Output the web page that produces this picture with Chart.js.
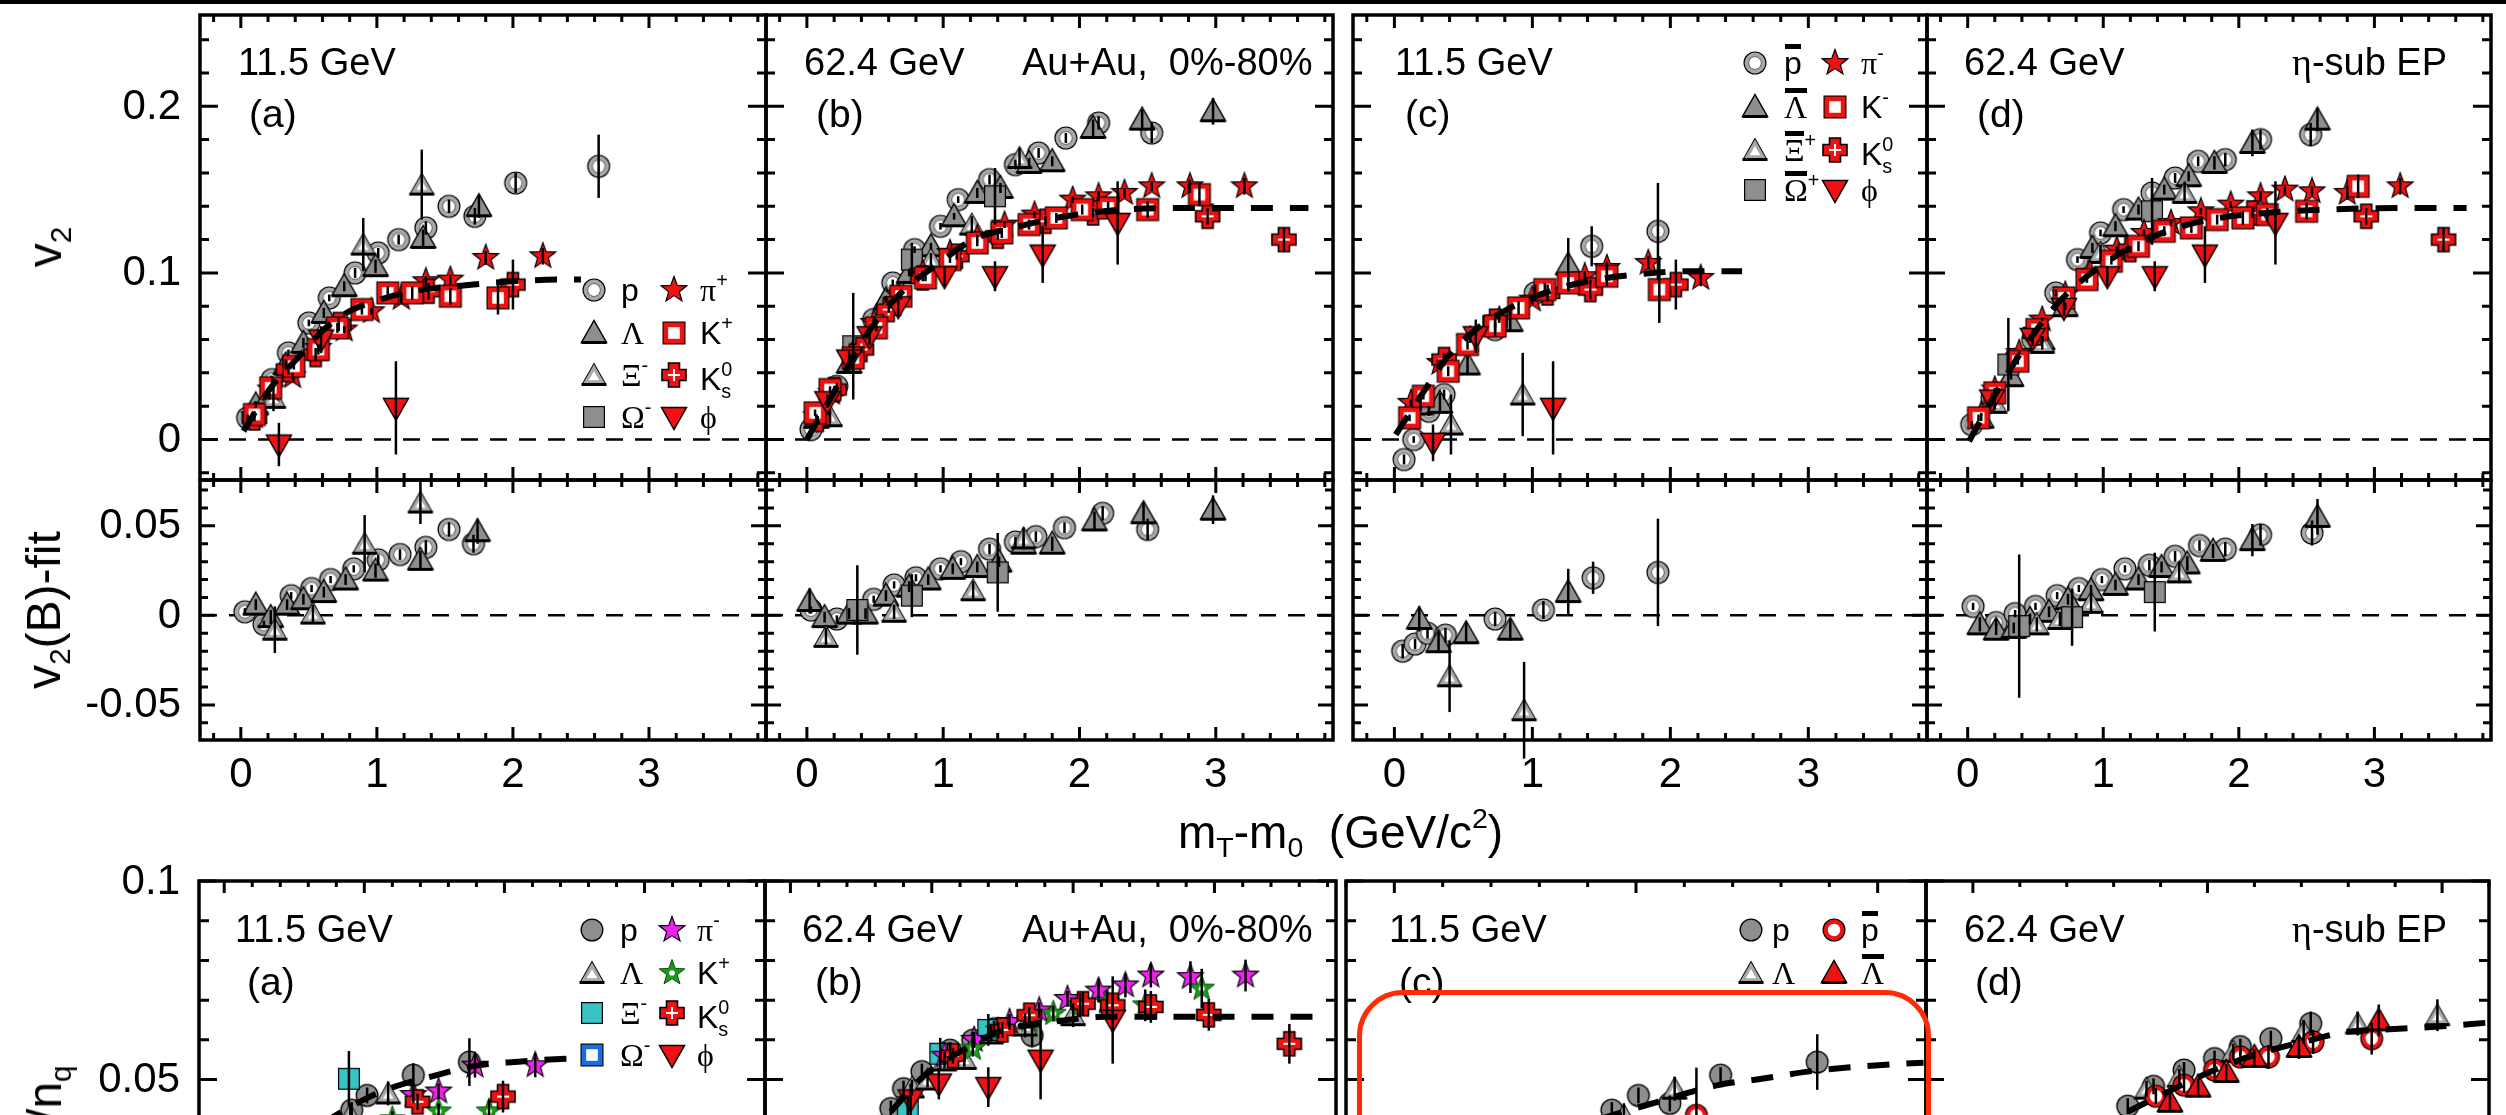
<!DOCTYPE html>
<html>
<head>
<meta charset="utf-8">
<script src="https://cdn.jsdelivr.net/npm/chart.js@4.4.1/dist/chart.umd.min.js"></script>
<style>
  html, body { margin: 0; padding: 0; width: 2506px; height: 1115px; overflow: hidden; background: #fff; }
  #page { position: relative; width: 2506px; height: 1115px; overflow: hidden; }
  #page canvas { position: absolute; }
  .t { position: absolute; white-space: nowrap; line-height: 1; color: #000;
       font-family: "Liberation Sans", Arial, Helvetica, sans-serif; }
  .g { font-family: "Liberation Serif", "Times New Roman", serif; }
  sup, sub { font-size: 0.62em; line-height: 0; position: relative; vertical-align: baseline; }
  sup { top: -0.72em; }
  sub { top: 0.32em; }
  .ss { display: inline-flex; flex-direction: column; font-size: 0.62em; line-height: 1.1; vertical-align: 0.73em; }
  .ob { position: relative; display: inline-block; }
  .ob::before { content: ""; position: absolute; left: 0.02em; right: 0.02em; top: -0.1em; height: 0.15em; background: #000; }
  .mk { position: absolute; }
  .vt { transform: translate(-50%, -50%) rotate(-90deg); }
  #box { position: absolute; left: 1357px; top: 990px; width: 574px; height: 420px; box-sizing: border-box;
         border: 5px solid #ff2b06; border-radius: 46px; z-index: 5; }
  #rule { position: absolute; left: 0; top: 0; width: 2506px; height: 4px; background: #000; }
</style>
</head>
<body>
<div id="page"><div id="rule"></div><div id="box"></div></div>
<script>
// ---------------- tick labels ----------------
const v2Ticks = [0, 0.1, 0.2];
const diffTicks = [-0.05, 0, 0.05];
const mtTicks = [0, 1, 2, 3];
const nqTicks = [0.05, 0.1];

// ---------------- v2 vs mT-m0 : [x, v2, err] ----------------
// (a) 11.5 GeV particles
const a_p = [[0.05,0.013,.002],[0.23,0.036,.002],[0.35,0.052,.002],[0.50,0.070,.002],[0.65,0.085,.002],[0.84,0.100,.003],[1.01,0.112,.003],[1.16,0.120,.003],[1.36,0.127,.004],[1.53,0.140,.004],[1.72,0.134,.005],[2.02,0.154,.006],[2.63,0.164,.019]];
const a_lam = [[0.11,0.021,.002],[0.21,0.027,.003],[0.33,0.045,.003],[0.46,0.058,.003],[0.61,0.076,.003],[0.76,0.092,.003],[0.99,0.104,.004],[1.34,0.121,.005],[1.75,0.140,.007]];
const a_xi = [[0.24,0.025,.008],[0.90,0.117,.016],[1.33,0.153,.021]];
const a_pi = [[0.10,0.014,.001],[0.22,0.030,.001],[0.38,0.038,.002],[0.57,0.055,.002],[0.76,0.066,.002],[0.96,0.077,.002],[1.18,0.085,.003],[1.36,0.095,.003],[1.54,0.096,.003],[1.80,0.109,.004],[2.22,0.110,.005]];
const a_k = [[0.10,0.015,.002],[0.22,0.031,.002],[0.39,0.044,.002],[0.57,0.054,.003],[0.71,0.067,.003],[0.89,0.078,.003],[1.08,0.088,.004],[1.26,0.088,.004],[1.54,0.086,.005],[1.89,0.085,.010]];
const a_k0 = [[0.10,0.013,.002],[0.35,0.042,.003],[0.55,0.051,.004],[0.72,0.069,.004],[1.38,0.089,.005],[2.00,0.093,.015]];
const a_phi = [[0.28,-0.003,.013],[0.59,0.060,.008],[1.14,0.019,.028]];
const a_fit = [[0.02,0.005],[0.21,0.030],[0.43,0.050],[0.61,0.066],[0.80,0.077],[1.02,0.084],[1.27,0.089],[1.71,0.093],[2.00,0.095],[2.37,0.096],[2.50,0.096]];

// (b) 62.4 GeV particles
const b_p = [[0.03,0.006,.002],[0.22,0.032,.002],[0.49,0.072,.002],[0.63,0.094,.002],[0.79,0.114,.002],[0.98,0.128,.002],[1.11,0.144,.002],[1.34,0.156,.003],[1.53,0.165,.003],[1.70,0.172,.003],[1.90,0.181,.003],[2.14,0.190,.004],[2.53,0.184,.006]];
const b_lam = [[0.07,0.013,.002],[0.31,0.046,.002],[0.58,0.084,.002],[0.75,0.100,.002],[0.91,0.116,.002],[1.08,0.134,.002],[1.25,0.148,.003],[1.42,0.151,.003],[1.63,0.166,.003],[1.80,0.167,.003],[2.10,0.187,.005],[2.46,0.192,.006],[2.98,0.197,.008]];
const b_xi = [[0.17,0.014,.004],[0.91,0.108,.004],[1.21,0.129,.005],[1.56,0.169,.006]];
const b_om = [[0.34,0.056,.032],[0.77,0.108,.010],[1.38,0.146,.017]];
const b_pi = [[0.07,0.014,.001],[0.18,0.028,.001],[0.33,0.050,.001],[0.49,0.070,.001],[0.67,0.087,.001],[0.85,0.100,.001],[1.05,0.112,.002],[1.25,0.121,.002],[1.45,0.129,.002],[1.67,0.135,.002],[1.95,0.144,.002],[2.14,0.146,.003],[2.33,0.148,.003],[2.53,0.152,.003],[2.81,0.152,.004],[3.21,0.152,.005]];
const b_k = [[0.06,0.016,.002],[0.17,0.030,.002],[0.34,0.049,.002],[0.51,0.067,.002],[0.69,0.086,.002],[0.87,0.097,.002],[1.05,0.108,.002],[1.25,0.118,.002],[1.43,0.124,.003],[1.63,0.129,.003],[1.83,0.133,.003],[2.02,0.138,.003],[2.21,0.139,.004],[2.50,0.138,.005],[2.88,0.147,.007]];
const b_k0 = [[0.08,0.012,.002],[0.20,0.030,.002],[0.40,0.054,.002],[0.60,0.078,.002],[0.85,0.097,.002],[1.10,0.110,.002],[1.40,0.122,.002],[1.75,0.131,.003],[2.10,0.136,.003],[2.94,0.134,.005],[3.50,0.120,.007]];
const b_phi = [[0.15,0.023,.004],[0.31,0.048,.005],[0.46,0.062,.005],[0.67,0.080,.006],[1.01,0.098,.006],[1.38,0.098,.009],[1.73,0.111,.017],[2.28,0.130,.025]];
const b_fit = [[0.00,0.000],[0.21,0.030],[0.43,0.062],[0.69,0.088],[0.97,0.106],[1.22,0.120],[1.56,0.128],[1.90,0.134],[2.32,0.138],[2.74,0.139],[3.31,0.139],[3.68,0.139]];

// (c) 11.5 GeV anti-particles
const c_p = [[0.07,-0.012,.003],[0.14,0.000,.002],[0.25,0.017,.003],[0.36,0.027,.003],[0.73,0.066,.004],[1.02,0.088,.005],[1.43,0.116,.012],[1.91,0.125,.029]];
const c_lam = [[0.19,0.021,.004],[0.33,0.022,.006],[0.53,0.045,.005],[0.84,0.071,.006],[1.26,0.105,.016]];
const c_xi = [[0.41,0.009,.018],[0.93,0.027,.025]];
const c_pi = [[0.12,0.022,.002],[0.33,0.046,.002],[0.55,0.060,.002],[0.76,0.072,.002],[1.00,0.084,.003],[1.38,0.098,.003],[1.54,0.103,.004],[1.84,0.106,.004],[2.22,0.097,.005]];
const c_k = [[0.11,0.013,.002],[0.21,0.026,.002],[0.39,0.041,.003],[0.53,0.057,.003],[0.73,0.068,.003],[0.90,0.079,.004],[1.09,0.090,.004],[1.26,0.094,.005],[1.54,0.098,.006],[1.92,0.090,.020]];
const c_k0 = [[0.36,0.048,.004],[0.73,0.071,.004],[1.11,0.088,.005],[1.42,0.090,.006],[2.04,0.093,.015]];
const c_phi = [[0.28,-0.002,.011],[0.59,0.062,.010],[1.15,0.019,.028]];
const c_fit = [[0.01,0.003],[0.19,0.026],[0.39,0.050],[0.59,0.066],[0.84,0.079],[1.09,0.088],[1.40,0.095],[1.74,0.099],[2.14,0.101],[2.52,0.101]];

// (d) 62.4 GeV, eta-sub event plane
const d_p = [[0.03,0.009,.002],[0.18,0.025,.002],[0.35,0.048,.002],[0.48,0.060,.002],[0.65,0.088,.002],[0.81,0.108,.002],[0.98,0.124,.002],[1.15,0.138,.002],[1.36,0.148,.003],[1.53,0.157,.003],[1.70,0.167,.003],[1.90,0.168,.004],[2.16,0.180,.006],[2.53,0.183,.007]];
const d_lam = [[0.10,0.013,.002],[0.32,0.038,.002],[0.55,0.060,.002],[0.72,0.080,.002],[0.92,0.115,.003],[1.09,0.128,.003],[1.26,0.138,.003],[1.45,0.150,.003],[1.63,0.158,.003],[1.82,0.166,.004],[2.10,0.178,.008],[2.58,0.192,.007]];
const d_xi = [[0.20,0.022,.004],[0.55,0.058,.004],[0.98,0.112,.005],[1.60,0.148,.006]];
const d_om = [[0.30,0.045,.028],[1.36,0.137,.020]];
const d_pi = [[0.10,0.015,.001],[0.20,0.030,.001],[0.38,0.052,.001],[0.55,0.072,.001],[0.72,0.087,.001],[0.90,0.100,.001],[1.10,0.114,.002],[1.30,0.124,.002],[1.50,0.130,.002],[1.72,0.137,.002],[1.94,0.141,.002],[2.16,0.146,.003],[2.34,0.150,.003],[2.54,0.149,.003],[2.80,0.148,.004],[3.19,0.152,.005]];
const d_k = [[0.08,0.013,.002],[0.20,0.028,.002],[0.37,0.047,.002],[0.51,0.066,.002],[0.71,0.085,.002],[0.88,0.096,.002],[1.06,0.107,.002],[1.26,0.116,.003],[1.45,0.125,.003],[1.65,0.127,.003],[1.84,0.132,.003],[2.03,0.133,.004],[2.21,0.135,.004],[2.50,0.137,.005],[2.88,0.152,.007]];
const d_k0 = [[0.50,0.064,.002],[1.20,0.114,.002],[2.10,0.136,.003],[2.94,0.134,.005],[3.51,0.120,.007]];
const d_phi = [[0.18,0.024,.004],[0.48,0.061,.005],[0.71,0.079,.005],[1.03,0.098,.006],[1.38,0.098,.009],[1.75,0.111,.017],[2.27,0.130,.025]];
const d_fit = [[0.01,-0.001],[0.21,0.028],[0.44,0.058],[0.69,0.084],[0.98,0.104],[1.32,0.120],[1.72,0.131],[2.20,0.136],[2.63,0.138],[3.20,0.139],[3.68,0.139]];

// ---------------- v2(baryon) - fit : [x, diff, err] ----------------
const ma_p = [[0.03,0.002,.002],[0.17,-0.005,.002],[0.37,0.011,.002],[0.52,0.015,.002],[0.66,0.020,.002],[0.83,0.026,.002],[1.01,0.031,.003],[1.17,0.034,.003],[1.36,0.038,.004],[1.53,0.048,.004],[1.71,0.040,.005]];
const ma_lam = [[0.11,0.006,.003],[0.22,-0.001,.004],[0.34,0.006,.003],[0.46,0.009,.003],[0.61,0.013,.003],[0.77,0.020,.003],[0.99,0.025,.004],[1.32,0.031,.005],[1.74,0.047,.007]];
const ma_xi = [[0.25,-0.008,.013],[0.53,0.001,.005],[0.91,0.040,.016],[1.32,0.063,.012]];

const mb_p = [[0.03,0.003,.002],[0.22,-0.002,.002],[0.49,0.009,.002],[0.64,0.017,.002],[0.80,0.021,.002],[0.98,0.026,.002],[1.13,0.030,.002],[1.34,0.037,.003],[1.53,0.041,.003],[1.68,0.044,.003],[1.89,0.049,.003],[2.17,0.057,.004],[2.50,0.048,.006]];
const mb_lam = [[0.02,0.008,.007],[0.13,-0.001,.003],[0.31,0.001,.003],[0.43,0.001,.003],[0.58,0.011,.003],[0.75,0.016,.003],[0.89,0.020,.003],[1.07,0.026,.003],[1.25,0.027,.003],[1.41,0.030,.003],[1.59,0.040,.003],[1.80,0.040,.004],[2.11,0.053,.005],[2.47,0.057,.006],[2.98,0.059,.008]];
const mb_xi = [[0.14,-0.012,.005],[0.64,0.002,.004],[1.22,0.014,.005],[1.59,0.043,.006]];
const mb_om = [[0.37,0.003,.025],[0.77,0.011,.012],[1.40,0.024,.022]];

const mc_p = [[0.06,-0.020,.004],[0.15,-0.016,.003],[0.24,-0.010,.003],[0.37,-0.011,.004],[0.73,-0.002,.004],[1.08,0.003,.005],[1.44,0.021,.009],[1.91,0.024,.030]];
const mc_lam = [[0.18,-0.002,.007],[0.32,-0.015,.006],[0.52,-0.010,.006],[0.84,-0.008,.006],[1.26,0.013,.013]];
const mc_xi = [[0.40,-0.034,.020],[0.94,-0.053,.027]];

const md_p = [[0.04,0.005,.002],[0.21,-0.004,.002],[0.35,0.001,.002],[0.50,0.005,.002],[0.66,0.011,.002],[0.82,0.015,.002],[0.99,0.020,.002],[1.16,0.026,.002],[1.34,0.028,.003],[1.53,0.033,.003],[1.71,0.039,.003],[1.90,0.037,.004],[2.16,0.045,.006],[2.54,0.046,.007]];
const md_lam = [[0.09,-0.005,.004],[0.21,-0.008,.003],[0.34,-0.007,.003],[0.46,-0.002,.003],[0.60,0.002,.003],[0.74,0.009,.003],[0.91,0.014,.003],[1.09,0.017,.003],[1.26,0.020,.003],[1.43,0.027,.003],[1.62,0.029,.004],[1.81,0.036,.004],[2.10,0.042,.009],[2.58,0.055,.010]];
const md_xi = [[0.51,-0.005,.004],[0.68,-0.002,.004],[0.91,0.007,.005],[1.56,0.024,.006]];
const md_om = [[0.38,-0.006,.040],[0.77,-0.001,.016],[1.38,0.013,.022]];

// ---------------- v2/nq : [x, value, err] ----------------
const na_p = [[0.91,0.0423,.002],[1.02,0.0460,.002],[1.35,0.0511,.003],[1.75,0.0544,.006]];
const na_lam = [[0.90,0.0410,.003],[1.17,0.0465,.003]];
const na_xi = [[0.89,0.0502,.007]];
const na_pi = [[1.35,0.0461,.002],[1.53,0.0470,.002],[1.79,0.0535,.003],[2.22,0.0536,.003]];
const na_k = [[1.20,0.0400,.002],[1.53,0.0420,.002],[1.89,0.0420,.003]];
const na_k0 = [[1.38,0.0444,.002],[1.99,0.0457,.004]];
const na_fit = [[0.70,0.0390],[1.00,0.0450],[1.20,0.0480],[1.45,0.0505],[1.80,0.0535],[2.10,0.0545],[2.40,0.0552],[2.65,0.0555]];

const nb_p = [[0.71,0.0427,.002],[0.80,0.0477,.002],[0.93,0.0520,.002],[1.13,0.0574,.002],[1.29,0.0599,.002],[1.44,0.0628,.002],[1.71,0.0611,.003]];
const nb_lam = [[0.86,0.0480,.002],[0.97,0.0500,.002],[1.09,0.0548,.002],[1.23,0.0552,.002],[1.42,0.0616,.002],[1.66,0.0636,.003],[2.00,0.0662,.003]];
const nb_xi = [[0.83,0.0430,.003],[1.06,0.0565,.004],[1.40,0.0625,.004]];
const nb_pi = [[1.09,0.0560,.001],[1.30,0.0600,.002],[1.55,0.0645,.002],[1.76,0.0674,.002],[1.96,0.0703,.002],[2.18,0.0724,.003],[2.37,0.0737,.003],[2.55,0.0762,.003],[2.83,0.0758,.004],[3.22,0.0762,.004]];
const nb_k = [[1.29,0.0578,.002],[1.47,0.0624,.002],[1.69,0.0649,.002],[1.86,0.0666,.002],[2.05,0.0687,.003],[2.24,0.0695,.003],[2.51,0.0687,.004],[2.91,0.0729,.005]];
const nb_k0 = [[1.15,0.0560,.002],[1.50,0.0625,.002],[1.69,0.0662,.002],[2.07,0.0691,.003],[2.28,0.0687,.003],[2.55,0.0683,.004],[2.96,0.0663,.004],[3.53,0.0590,.005]];
const nb_phi = [[0.85,0.0450,.004],[1.05,0.0490,.004],[1.40,0.0481,.005],[1.77,0.0550,.010],[2.28,0.0650,.011]];
const nb_fit = [[0.71,0.0419],[0.95,0.0511],[1.20,0.0570],[1.47,0.0620],[1.85,0.0645],[2.23,0.0658],[2.64,0.0658],[3.31,0.0658],[3.78,0.0658]];

const nc_p = [[0.90,0.0423,.002],[1.01,0.0460,.002],[1.14,0.0440,.002],[1.35,0.0511,.002],[1.75,0.0544,.007]];
const nc_lam = [[0.95,0.0410,.003],[1.16,0.0477,.003]];
const nc_pbar = [[1.25,0.0410,.012]];
const nc_fit = [[0.70,0.0370],[0.90,0.0410],[1.09,0.0444],[1.34,0.0486],[1.52,0.0502],[1.71,0.0520],[1.91,0.0532],[2.11,0.0540],[2.19,0.0542]];

const nd_p = [[0.66,0.0433,.002],[0.77,0.0483,.002],[0.90,0.0524,.002],[1.03,0.0553,.002],[1.14,0.0583,.002],[1.27,0.0603,.002],[1.44,0.0641,.003]];
const nd_pbar = [[0.78,0.0458,.002],[0.90,0.0486,.002],[1.03,0.0524,.002],[1.14,0.0557,.002],[1.26,0.0557,.003],[1.45,0.0595,.003],[1.70,0.0603,.004]];
const nd_lam = [[0.74,0.0477,.002],[0.88,0.0507,.002],[1.11,0.0570,.002],[1.41,0.0620,.003],[1.64,0.0641,.003],[1.98,0.0662,.004]];
const nd_lbar = [[0.84,0.0444,.002],[0.96,0.0482,.002],[1.08,0.0519,.002],[1.20,0.0557,.002],[1.39,0.0582,.003],[1.73,0.0649,.004]];
const nd_fit = [[0.66,0.0419],[0.83,0.0469],[1.01,0.0519],[1.19,0.0560],[1.41,0.0595],[1.59,0.0620],[1.75,0.0626],[2.00,0.0634],[2.19,0.0643]];

// ---------------- marker sprites ----------------
const RED = '#f01212', GREY = '#8e8e8e', LIGHT = '#a8a8a8';

function sprite(draw) {
  const c = document.createElement('canvas');
  c.width = c.height = 30;
  const g = c.getContext('2d');
  g.translate(15, 15);
  draw(g);
  return c;
}
function disc(g, r, col) {
  g.beginPath(); g.arc(0, 0, r, 0, 2 * Math.PI); g.fillStyle = col; g.fill();
}
function shape(g, pts, fill, stroke, lw) {
  g.beginPath();
  pts.forEach(([x, y], i) => (i ? g.lineTo(x, y) : g.moveTo(x, y)));
  g.closePath();
  if (fill) { g.fillStyle = fill; g.fill(); }
  if (stroke) { g.strokeStyle = stroke; g.lineWidth = lw; g.stroke(); }
}
function base(g) {
  g.beginPath(); g.moveTo(-12.5, 9.5); g.lineTo(12.5, 9.5);
  g.strokeStyle = '#000'; g.lineWidth = 3; g.stroke();
}
const UP = [[0, -12.5], [12.5, 9.5], [-12.5, 9.5]];
const DOWN = [[-12.5, -9.5], [12.5, -9.5], [0, 12.5]];
const shrink = (pts, s) => pts.map(([x, y]) => [x * s, 2.2 + (y - 2.2) * s]);
const sq = h => [[-h, -h], [h, -h], [h, h], [-h, h]];
const starPts = (R, r) => Array.from({ length: 10 }, (_, i) => {
  const a = -Math.PI / 2 + i * Math.PI / 5, q = i % 2 ? r : R;
  return [q * Math.cos(a), q * Math.sin(a)];
});
const plusPts = (a, b) => [[-b, -a], [b, -a], [b, -b], [a, -b], [a, b], [b, b], [b, a], [-b, a], [-b, b], [-a, b], [-a, -b], [-b, -b]];

const mk = {
  ring: sprite(g => { disc(g, 11.5, '#000'); disc(g, 10.4, LIGHT); disc(g, 6.7, '#555'); disc(g, 5.9, '#fff'); }),
  ball: sprite(g => { disc(g, 11.5, '#000'); disc(g, 10.2, GREY); }),
  redRing: sprite(g => { disc(g, 11.5, '#000'); disc(g, 10.4, RED); disc(g, 6.2, '#fff'); }),
  tri: sprite(g => { shape(g, UP, GREY, '#000', 1.5); base(g); }),
  redTri: sprite(g => { shape(g, UP, RED, '#000', 1.5); base(g); }),
  openTri: sprite(g => { shape(g, UP, '#000'); shape(g, shrink(UP, 0.87), LIGHT); shape(g, shrink(UP, 0.42), '#fff'); base(g); }),
  box: sprite(g => { shape(g, sq(11), '#000'); shape(g, sq(9.8), GREY); }),
  cyanBox: sprite(g => { shape(g, sq(11), '#000'); shape(g, sq(9.8), '#38c4c4'); }),
  redBox: sprite(g => { shape(g, sq(11.5), '#000'); shape(g, sq(10.4), RED); shape(g, sq(5.8), '#fff'); }),
  blueBox: sprite(g => { shape(g, sq(11.5), '#000'); shape(g, sq(10.4), '#1c6ee0'); shape(g, sq(5.8), '#fff'); }),
  star: sprite(g => shape(g, starPts(13.5, 5.6), RED, '#000', 1.2)),
  magStar: sprite(g => shape(g, starPts(13.5, 5.6), '#ee22ee', '#000', 1.2)),
  greenStar: sprite(g => { shape(g, starPts(13.5, 5.6), '#1a9c1a', '#0b4d0b', 1); disc(g, 2.8, '#fff'); }),
  cross: sprite(g => {
    shape(g, plusPts(12, 5.5), RED, '#000', 1.6);
    g.beginPath(); g.moveTo(-6, 0); g.lineTo(6, 0); g.moveTo(0, -6); g.lineTo(0, 6);
    g.strokeStyle = '#fff'; g.lineWidth = 2; g.stroke();
  }),
  down: sprite(g => shape(g, DOWN, RED, '#000', 1.5))
};

// ---------------- datasets ----------------
const pts = a => a.map(([x, y]) => ({ x, y }));
const marks = (a, m) => ({
  data: pts(a), errs: a.map(r => r[2] || 0),
  pointStyle: m, pointRadius: 11, showLine: false, clip: false
});
const fit = a => ({
  type: 'line', data: pts(a), borderColor: '#000', borderWidth: 6,
  borderDash: [22, 17], borderCapStyle: 'butt', pointRadius: 0,
  cubicInterpolationMode: 'monotone', fill: false, clip: false
});

// frame, mirrored inward ticks, zero line, error bars and tick labels
const fmt = v => String(v);
function drawTicks(ctx, sc, lo, hi, step, major, horiz, a, lMaj, lMin) {
  for (let k = Math.ceil(lo / step - 1e-6); k * step <= hi + 1e-9; k++) {
    const v = k * step;
    const L = Math.abs(v / major - Math.round(v / major)) < 1e-6 ? lMaj : lMin;
    const p = sc.getPixelForValue(v);
    ctx.beginPath();
    if (horiz) {
      ctx.moveTo(p, a.bottom); ctx.lineTo(p, a.bottom - L);
      ctx.moveTo(p, a.top); ctx.lineTo(p, a.top + L);
    } else {
      ctx.moveTo(a.left, p); ctx.lineTo(a.left + L, p);
      ctx.moveTo(a.right, p); ctx.lineTo(a.right - L, p);
    }
    ctx.stroke();
  }
}

const panelPlugin = {
  id: 'panel',
  beforeDatasetsDraw(chart, args, o) {
    if (!o.zero) return;
    const { ctx, chartArea: a, scales: { y } } = chart;
    const py = y.getPixelForValue(0);
    ctx.save();
    ctx.setLineDash([17, 12]);
    ctx.lineWidth = 2.5;
    ctx.strokeStyle = '#000';
    ctx.beginPath(); ctx.moveTo(a.left, py); ctx.lineTo(a.right, py); ctx.stroke();
    ctx.restore();
  },
  afterDatasetsDraw(chart) {
    const { ctx, scales: { y } } = chart;
    ctx.save();
    ctx.lineWidth = 2.5;
    ctx.strokeStyle = '#000';
    chart.data.datasets.forEach((ds, i) => {
      if (!ds.errs) return;
      chart.getDatasetMeta(i).data.forEach((el, j) => {
        const e = ds.errs[j];
        if (!e) return;
        const v = ds.data[j].y;
        ctx.beginPath();
        ctx.moveTo(el.x, y.getPixelForValue(v - e));
        ctx.lineTo(el.x, y.getPixelForValue(v + e));
        ctx.stroke();
      });
    });
    ctx.restore();
  },
  afterDraw(chart, args, o) {
    const { ctx, chartArea: a, scales: { x, y } } = chart;
    ctx.save();
    ctx.strokeStyle = '#000';
    ctx.lineWidth = 3;
    drawTicks(ctx, x, o.x[0], o.x[1], o.xStep, o.xMajor, true, a, o.xTick[0], o.xTick[1]);
    drawTicks(ctx, y, o.y[0], o.y[1], o.yStep, o.yMajor, false, a, o.yTick[0], o.yTick[1]);
    ctx.lineWidth = 3.5;
    ctx.strokeRect(a.left, a.top, a.right - a.left, a.bottom - a.top);
    ctx.fillStyle = '#000';
    ctx.font = '42px "Liberation Sans", Arial, sans-serif';
    if (o.yLabels) {
      ctx.textAlign = 'right';
      ctx.textBaseline = 'middle';
      o.yLabels.forEach(v => ctx.fillText(fmt(v), a.left - 19, y.getPixelForValue(v) + 1));
    }
    if (o.xLabels) {
      ctx.textAlign = 'center';
      ctx.textBaseline = 'alphabetic';
      o.xLabels.forEach(v => ctx.fillText(fmt(v), x.getPixelForValue(v), a.bottom + 47));
    }
    ctx.restore();
  }
};

const page = document.getElementById('page');
const PAD = 150;

function panel(fr, o, sets) {
  const cv = document.createElement('canvas');
  cv.width = fr[2] - fr[0] + 2 * PAD;
  cv.height = fr[3] - fr[1] + 2 * PAD;
  cv.style.left = (fr[0] - PAD) + 'px';
  cv.style.top = (fr[1] - PAD) + 'px';
  page.appendChild(cv);
  return new Chart(cv, {
    type: 'scatter',
    data: { datasets: sets },
    options: {
      responsive: false,
      animation: false,
      events: [],
      layout: { padding: PAD },
      scales: {
        x: { type: 'linear', min: o.x[0], max: o.x[1], display: false },
        y: { type: 'linear', min: o.y[0], max: o.y[1], display: false }
      },
      plugins: { legend: { display: false }, tooltip: { enabled: false }, panel: o }
    },
    plugins: [panelPlugin]
  });
}

// ---------------- layout ----------------
const colsTop = [[200, 766], [766, 1333], [1353, 1927], [1927, 2491]];
const colsBot = [[199, 765], [765, 1336], [1346, 1926], [1926, 2489]];
const row1 = [15, 480], row2 = [480, 740], row3 = [881, 1319];

const xTop = [-0.3, 3.86];
const optV2 = (c) => ({ x: xTop, y: [-0.0243, 0.2548], xStep: 0.2, xMajor: 1, yStep: 0.02, yMajor: 0.1,
  xTick: [13, 7], yTick: [18, 9], zero: true, yLabels: c === 0 ? v2Ticks : null });
const optDiff = (c) => ({ x: xTop, y: [-0.0696, 0.0756], xStep: 0.2, xMajor: 1, yStep: 0.01, yMajor: 0.05,
  xTick: [13, 7], yTick: [15, 8], zero: true, yLabels: c === 0 ? diffTicks : null, xLabels: mtTicks });
const optNq = (c) => ({ x: c < 2 ? [-0.18, 3.86] : [-0.2, 2.2], y: [-0.0103, 0.1], xStep: 0.2, xMajor: 1,
  yStep: 0.01, yMajor: 0.05, xTick: [12, 6], yTick: [18, 10], zero: false, yLabels: c === 0 ? nqTicks : null });

const fr = (cols, c, row) => [cols[c][0], row[0], cols[c][1], row[1]];

const v2Sets = (f, phi, k, k0, pi, om, xi, lam, p) => [
  fit(f), marks(phi, mk.down), marks(k, mk.redBox), marks(k0, mk.cross), marks(pi, mk.star),
  marks(om, mk.box), marks(xi, mk.openTri), marks(lam, mk.tri), marks(p, mk.ring)
];
const diffSets = (om, xi, lam, p) => [marks(om, mk.box), marks(xi, mk.openTri), marks(lam, mk.tri), marks(p, mk.ring)];

panel(fr(colsTop, 0, row1), optV2(0), v2Sets(a_fit, a_phi, a_k, a_k0, a_pi, [], a_xi, a_lam, a_p));
panel(fr(colsTop, 1, row1), optV2(1), v2Sets(b_fit, b_phi, b_k, b_k0, b_pi, b_om, b_xi, b_lam, b_p));
panel(fr(colsTop, 2, row1), optV2(2), v2Sets(c_fit, c_phi, c_k, c_k0, c_pi, [], c_xi, c_lam, c_p));
panel(fr(colsTop, 3, row1), optV2(3), v2Sets(d_fit, d_phi, d_k, d_k0, d_pi, d_om, d_xi, d_lam, d_p));

panel(fr(colsTop, 0, row2), optDiff(0), diffSets([], ma_xi, ma_lam, ma_p));
panel(fr(colsTop, 1, row2), optDiff(1), diffSets(mb_om, mb_xi, mb_lam, mb_p));
panel(fr(colsTop, 2, row2), optDiff(2), diffSets([], mc_xi, mc_lam, mc_p));
panel(fr(colsTop, 3, row2), optDiff(3), diffSets(md_om, md_xi, md_lam, md_p));

panel(fr(colsBot, 0, row3), optNq(0), [fit(na_fit), marks(na_k0, mk.cross), marks(na_k, mk.greenStar),
  marks(na_pi, mk.magStar), marks(na_xi, mk.cyanBox), marks(na_lam, mk.openTri), marks(na_p, mk.ball)]);
panel(fr(colsBot, 1, row3), optNq(1), [fit(nb_fit), marks(nb_phi, mk.down), marks(nb_k0, mk.cross),
  marks(nb_k, mk.greenStar), marks(nb_pi, mk.magStar), marks(nb_xi, mk.cyanBox), marks(nb_lam, mk.openTri), marks(nb_p, mk.ball)]);
panel(fr(colsBot, 2, row3), optNq(2), [fit(nc_fit), marks(nc_pbar, mk.redRing), marks(nc_lam, mk.openTri), marks(nc_p, mk.ball)]);
panel(fr(colsBot, 3, row3), optNq(3), [fit(nd_fit), marks(nd_lbar, mk.redTri), marks(nd_pbar, mk.redRing),
  marks(nd_lam, mk.openTri), marks(nd_p, mk.ball)]);

// ---------------- text ----------------
function text(html, x, baseline, size, cls) {
  const d = document.createElement('div');
  d.className = 't' + (cls ? ' ' + cls : '');
  d.innerHTML = html;
  d.style.left = x + 'px';
  d.style.top = (baseline - 0.8465 * size) + 'px';
  d.style.fontSize = size + 'px';
  page.appendChild(d);
  return d;
}
function vtext(html, cx, cy, size) {
  const d = document.createElement('div');
  d.className = 't vt';
  d.innerHTML = html;
  d.style.left = cx + 'px';
  d.style.top = cy + 'px';
  d.style.fontSize = size + 'px';
  page.appendChild(d);
}

const AUAU = 'Au+Au,&nbsp; 0%-80%';
const ETA = '<span class="g">η</span>-sub EP';
[[238, 249, '11.5 GeV', 'a'], [804, 816, '62.4 GeV', 'b'], [1395, 1405, '11.5 GeV', 'c'], [1964, 1977, '62.4 GeV', 'd']]
  .forEach(([x1, x2, s, l]) => { text(s, x1, 75, 38); text('(' + l + ')', x2, 127, 39); });
text(AUAU, 1022, 75, 38);
text(ETA, 2292, 75, 38);

[[235, 247, '11.5 GeV', 'a'], [802, 815, '62.4 GeV', 'b'], [1389, 1399, '11.5 GeV', 'c'], [1964, 1975, '62.4 GeV', 'd']]
  .forEach(([x1, x2, s, l]) => { text(s, x1, 942, 38); text('(' + l + ')', x2, 995, 39); });
text(AUAU, 1022, 942, 38);
text(ETA, 2292, 942, 38);

vtext('v<sub>2</sub>', 45, 247, 48);
vtext('v<sub>2</sub>(B)-fit', 44, 610, 48);
vtext('v<sub>2</sub>/n<sub>q</sub>', 45, 1114, 48);
text('m<sub>T</sub>-m<sub>0</sub>&nbsp; (GeV/c<sup>2</sup>)', 1178, 848, 46);

// ---------------- legends ----------------
const G = s => '<span class="g">' + s + '</span>';
const BAR = s => '<span class="ob">' + s + '</span>';
const K0S = 'K<span class="ss"><span>0</span><span>s</span></span>';
const PHI = G('ϕ');

function legend(rows, c1, c2, entries) {
  entries.forEach(([m1, l1, m2, l2], i) => {
    const y = rows[i];
    [[m1, l1, c1], [m2, l2, c2]].forEach(([m, l, c]) => {
      const img = document.createElement('img');
      img.className = 'mk';
      img.src = m.toDataURL();
      img.style.left = (c[0] - 15) + 'px';
      img.style.top = (y - 15) + 'px';
      page.appendChild(img);
      text(l, c[1], y + 11, 32);
    });
  });
}

legend([290, 333, 375, 417], [594, 621], [674, 700], [
  [mk.ring, 'p', mk.star, G('π') + '<sup>+</sup>'],
  [mk.tri, G('Λ'), mk.redBox, 'K<sup>+</sup>'],
  [mk.openTri, G('Ξ') + '<sup>-</sup>', mk.cross, K0S],
  [mk.box, G('Ω') + '<sup>-</sup>', mk.down, PHI]
]);
legend([63, 107, 150, 190], [1755, 1784], [1835, 1861], [
  [mk.ring, BAR('p'), mk.star, G('π') + '<sup>-</sup>'],
  [mk.tri, BAR(G('Λ')), mk.redBox, 'K<sup>-</sup>'],
  [mk.openTri, BAR(G('Ξ')) + '<sup>+</sup>', mk.cross, K0S],
  [mk.box, BAR(G('Ω')) + '<sup>+</sup>', mk.down, PHI]
]);
legend([930, 973, 1013, 1055], [592, 620], [672, 697], [
  [mk.ball, 'p', mk.magStar, G('π') + '<sup>-</sup>'],
  [mk.openTri, G('Λ'), mk.greenStar, 'K<sup>+</sup>'],
  [mk.cyanBox, G('Ξ') + '<sup>-</sup>', mk.cross, K0S],
  [mk.blueBox, G('Ω') + '<sup>-</sup>', mk.down, PHI]
]);
legend([930, 973], [1751, 1772], [1834, 1861], [
  [mk.ball, 'p', mk.redRing, BAR('p')],
  [mk.openTri, G('Λ'), mk.redTri, BAR(G('Λ'))]
]);
</script>
</body>
</html>
